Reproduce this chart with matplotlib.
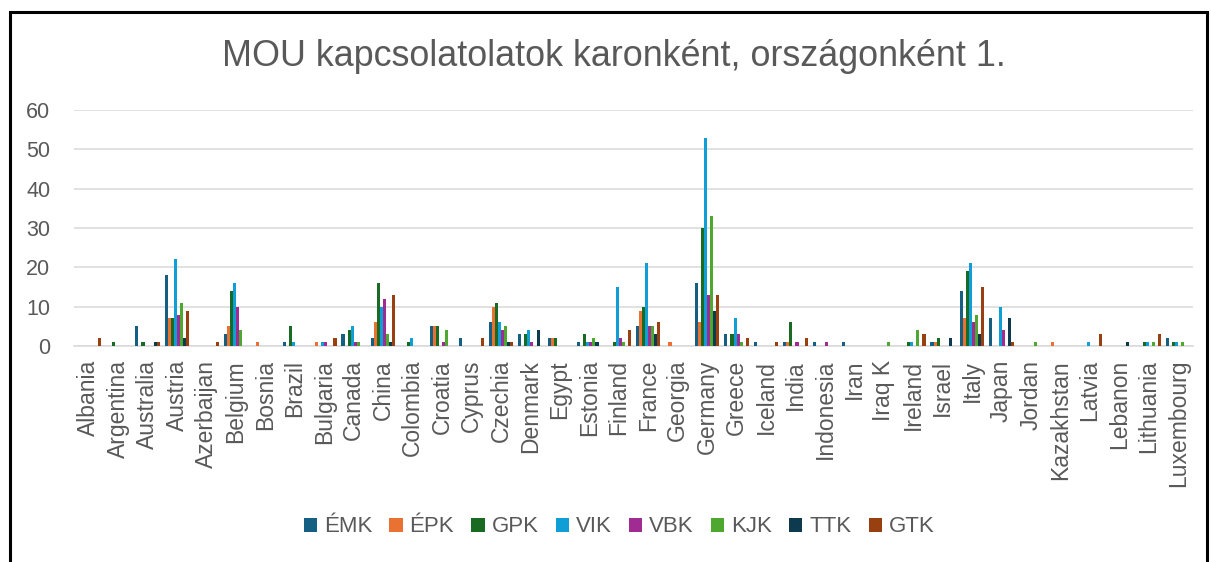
import matplotlib
matplotlib.use("Agg")
import matplotlib.pyplot as plt
from matplotlib.patches import Rectangle, Patch
import numpy as np

plt.rcParams['font.family'] = ['Liberation Sans', 'DejaVu Sans']

countries = ["Albania", "Argentina", "Australia", "Austria", "Azerbaijan", "Belgium", "Bosnia",
             "Brazil", "Bulgaria", "Canada", "China", "Colombia", "Croatia", "Cyprus", "Czechia",
             "Denmark", "Egypt", "Estonia", "Finland", "France", "Georgia", "Germany", "Greece",
             "Iceland", "India", "Indonesia", "Iran", "Iraq K", "Ireland", "Israel", "Italy",
             "Japan", "Jordan", "Kazakhstan", "Latvia", "Lebanon", "Lithuania", "Luxembourg"]

series_names = ["ÉMK", "ÉPK", "GPK", "VIK", "VBK", "KJK", "TTK", "GTK"]

emk = [0,0,5,18,0,3,0,1,0,3, 2,0,5,2,6,3,2,1,0,5, 0,16,3,1,1,1,1,0,0,1, 14,7,0,0,0,0,0,2]
epk = [0,0,0,7,0,5,1,0,1,0, 6,0,5,0,10,0,2,0,0,9, 1,6,0,0,1,0,0,0,0,1, 7,0,0,1,0,0,0,0]
gpk = [0,1,1,7,0,14,0,5,0,4, 16,1,5,0,11,3,2,3,1,10, 0,30,3,0,6,0,0,0,1,2, 19,0,0,0,0,0,1,1]
vik = [0,0,0,22,0,16,0,1,1,5, 10,2,0,0,6,4,0,1,15,21, 0,53,7,0,0,0,0,0,1,0, 21,10,0,0,1,0,1,1]
vbk = [0,0,0,8,0,10,0,0,1,1, 12,0,1,0,4,1,0,1,2,5, 0,13,3,0,1,1,0,0,0,0, 6,4,0,0,0,0,0,0]
kjk = [0,0,0,11,0,4,0,0,0,1, 3,0,4,0,5,0,0,2,1,5, 0,33,1,0,0,0,0,1,4,0, 8,0,1,0,0,0,1,1]
ttk = [0,0,1,2,0,0,0,0,0,0, 1,0,0,0,1,4,0,1,0,3, 0,9,0,0,0,0,0,0,0,2, 3,7,0,0,0,1,0,0]
gtk = [2,0,1,9,1,0,0,0,2,0, 13,0,0,2,1,0,0,0,4,6, 0,13,2,1,2,0,0,0,3,0, 15,1,0,0,3,0,3,0]

series_values = [emk, epk, gpk, vik, vbk, kjk, ttk, gtk]
colors = ["#156082", "#E97132", "#196B24", "#0F9ED5", "#A02B93", "#4EA72E", "#0D3A4E", "#994011"]

W, H = 1211, 562
fig = plt.figure(figsize=(W / 100, H / 100), dpi=100)

# outer frame
fig.patches.append(Rectangle((10 / W, -0.05), (1207 - 10) / W, 1 - 11.5 / H + 0.05,
                             transform=fig.transFigure, fill=False, edgecolor="black",
                             linewidth=2.2, zorder=10))

ax = fig.add_axes([74 / W, 1 - 346 / H, (1193 - 74) / W, (346 - 110) / H])

x = np.arange(len(countries))
bw = 0.104
for k, (vals, col, name) in enumerate(zip(series_values, colors, series_names)):
    ax.bar(x + (k - 3.5) * bw, vals, width=bw, color=col, label=name, zorder=3)

ax.set_xlim(-0.5, len(countries) - 0.5)
ax.set_ylim(0, 60)
ax.set_yticks(np.arange(0, 61, 10))
ax.yaxis.grid(True, color="#D9D9D9", linewidth=1.1, zorder=0)
ax.set_axisbelow(True)
for s in ["top", "right", "left"]:
    ax.spines[s].set_visible(False)
ax.spines["bottom"].set_color("#D9D9D9")
ax.spines["bottom"].set_linewidth(1.1)

ax.set_xticks(x)
ax.set_xticklabels(countries, rotation=90, fontsize=16.5, color="#595959")
ax.tick_params(axis="x", length=0, pad=10)
ax.tick_params(axis="y", length=0, pad=17, labelsize=15.5, labelcolor="#595959")

fig.text(614 / W, 1 - 56 / H, "MOU kapcsolatolatok karonként, országonként 1.",
         ha="center", va="center", fontsize=25.8, color="#595959")

handles = [Patch(facecolor=c, edgecolor="none") for c in colors]
fig.legend(handles, series_names, loc="center", bbox_to_anchor=(619 / W, 1 - 527 / H),
           ncol=8, frameon=False, fontsize=16, labelcolor="#595959",
           handlelength=0.6, handleheight=0.6, handletextpad=0.3, columnspacing=0.78)

fig.savefig("out.png", dpi=100)
